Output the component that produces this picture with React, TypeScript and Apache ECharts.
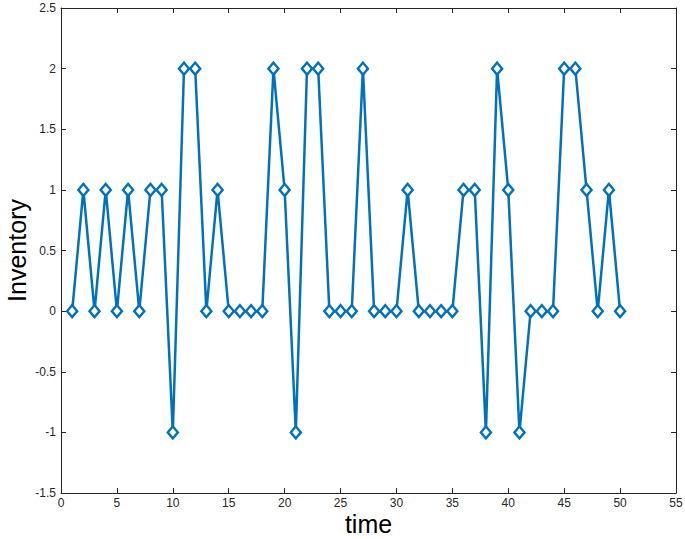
import React, { useEffect, useRef } from "react";
import * as echarts from "echarts";

const timeSteps: number[] = Array.from({ length: 50 }, (_, i) => i + 1);
const inventory: number[] = [
  0, 1, 0, 1, 0, 1, 0, 1, 1, -1,
  2, 2, 0, 1, 0, 0, 0, 0, 2, 1,
  -1, 2, 2, 0, 0, 0, 2, 0, 0, 0,
  1, 0, 0, 0, 0, 1, 1, -1, 2, 1,
  -1, 0, 0, 0, 2, 2, 1, 0, 1, 0,
];
const xLabel = "time";
const yLabel = "Inventory";

export default function App() {
  const ref = useRef<HTMLDivElement>(null);
  useEffect(() => {
    document.body.style.margin = "0";
    if (!ref.current) return;
    const chart = echarts.init(ref.current, null, { renderer: "svg" });
    const axisColor = "#262626";
    const font = "Liberation Sans, Arial, Helvetica, sans-serif";
    const baseAxis = {
      axisLine: { show: true, onZero: false, lineStyle: { color: axisColor, width: 1 } },
      axisTick: { show: true, inside: true, length: 5, lineStyle: { color: axisColor } },
      splitLine: { show: false },
    };
    chart.setOption({
      animation: false,
      backgroundColor: "#ffffff",
      grid: { left: 61, right: 9, top: 8, bottom: 46, containLabel: false, outerBoundsMode: "none" },
      xAxis: [
        {
          ...baseAxis,
          type: "value",
          min: 0,
          max: 55,
          interval: 5,
          position: "bottom",
          name: xLabel,
          nameLocation: "middle",
          nameGap: 18,
          nameMoveOverlap: false,
          nameTextStyle: { fontSize: 25, color: "#000", fontFamily: font },
          axisLabel: { fontSize: 12, color: "#262626", fontFamily: font, margin: 4 },
        },
        {
          ...baseAxis,
          type: "value",
          min: 0,
          max: 55,
          interval: 5,
          position: "top",
          axisLabel: { show: false },
        },
      ],
      yAxis: [
        {
          ...baseAxis,
          type: "value",
          min: -1.5,
          max: 2.5,
          interval: 0.5,
          position: "left",
          name: yLabel,
          nameLocation: "middle",
          nameGap: 32,
          nameMoveOverlap: false,
          nameTextStyle: { fontSize: 25, color: "#000", fontFamily: font },
          axisLabel: { fontSize: 12, color: "#262626", fontFamily: font, margin: 5 },
        },
        {
          ...baseAxis,
          type: "value",
          min: -1.5,
          max: 2.5,
          interval: 0.5,
          position: "right",
          axisLabel: { show: false },
        },
      ],
      series: [
        {
          type: "line",
          data: timeSteps.map((t, i) => [t, inventory[i]]),
          xAxisIndex: 0,
          yAxisIndex: 0,
          lineStyle: { color: "#0072BD", width: 2.5 },
          symbol: "diamond",
          symbolSize: [10, 12],
          showAllSymbol: true,
          itemStyle: { color: "#ffffff", borderColor: "#0072BD", borderWidth: 2.5 },
        },
      ],
    });
    return () => chart.dispose();
  }, []);
  return <div ref={ref} style={{ width: 685, height: 539 }} />;
}
